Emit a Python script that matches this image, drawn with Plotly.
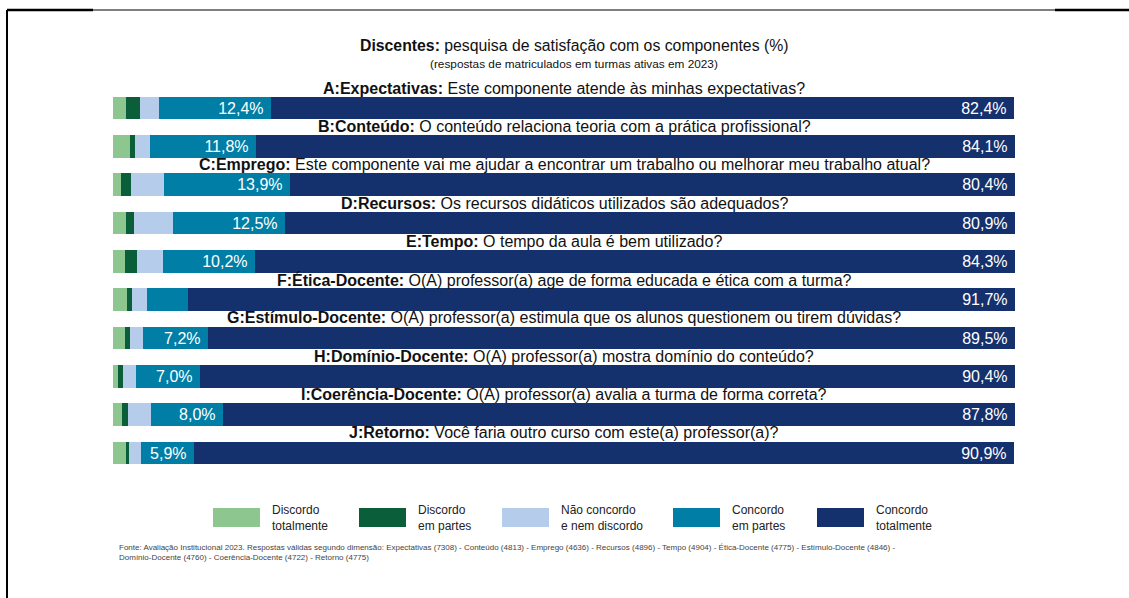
import plotly.graph_objects as go

# ---------------- data ----------------
codes = ["A:Expectativas:", "B:Conteúdo:", "C:Emprego:", "D:Recursos:", "E:Tempo:",
         "F:Ética-Docente:", "G:Estímulo-Docente:", "H:Domínio-Docente:",
         "I:Coerência-Docente:", "J:Retorno:"]
questions = [
    "Este componente atende às minhas expectativas?",
    "O conteúdo relaciona teoria com a prática profissional?",
    "Este componente vai me ajudar a encontrar um trabalho ou melhorar meu trabalho atual?",
    "Os recursos didáticos utilizados são adequados?",
    "O tempo da aula é bem utilizado?",
    "O(A) professor(a) age de forma educada e ética com a turma?",
    "O(A) professor(a) estimula que os alunos questionem ou tirem dúvidas?",
    "O(A) professor(a) mostra domínio do conteúdo?",
    "O(A) professor(a) avalia a turma de forma correta?",
    "Você faria outro curso com este(a) professor(a)?",
]
discordo_totalmente = [1.4, 1.9, 0.9, 1.4, 1.3, 1.6, 1.3, 0.6, 1.0, 1.4]
discordo_em_partes  = [1.6, 0.5, 1.1, 0.9, 1.4, 0.5, 0.6, 0.5, 0.7, 0.4]
nao_concordo        = [2.1, 1.7, 3.7, 4.3, 2.8, 1.7, 1.4, 1.5, 2.5, 1.3]
concordo_em_partes  = [12.4, 11.8, 13.9, 12.5, 10.2, 4.5, 7.2, 7.0, 8.0, 5.9]
concordo_totalmente = [82.4, 84.1, 80.4, 80.9, 84.3, 91.7, 89.5, 90.4, 87.8, 90.9]

legend_labels = ["Discordo<br>totalmente", "Discordo<br>em partes", "Não concordo<br>e nem discordo",
                 "Concordo<br>em partes", "Concordo<br>totalmente"]
colors = ["#8dc68f", "#0a5e3a", "#b5cdea", "#007ea6", "#14306d"]

title_bold = "Discentes:"
title_rest = " pesquisa de satisfação com os componentes (%)"
subtitle = "(respostas de matriculados em turmas ativas em 2023)"
footnote = ("Fonte: Avaliação Institucional 2023. Respostas válidas segundo dimensão: Expectativas (7308) - "
            "Conteúdo (4813) - Emprego (4636) - Recursos (4896) - Tempo (4904) - Ética-Docente (4775) - "
            "Estímulo-Docente (4846) -<br>Domínio-Docente (4760) - Coerência-Docente (4722) - Retorno (4775)")

# ---------------- layout helpers ----------------
W, H = 1129, 598
ML, MR, MT, MB = 113, 114, 89, 126
PW, PH = W - ML - MR, H - MT - MB


def px(x):
    return (x - ML) / PW


def py(y):
    return (H - MB - y) / PH


FONT = "Liberation Sans, Arial, sans-serif"
ys = list(range(len(codes)))

series = [discordo_totalmente, discordo_em_partes, nao_concordo, concordo_em_partes, concordo_totalmente]
fig = go.Figure()
for k, (vals, col) in enumerate(zip(series, colors)):
    if k == 3:
        text = [("%.1f%%" % v).replace(".", ",") + "\u00a0" if v >= 5 else "" for v in vals]
    elif k == 4:
        text = [("%.1f%%" % v).replace(".", ",") + "\u00a0" for v in vals]
    else:
        text = None
    fig.add_trace(go.Bar(
        x=vals, y=ys, orientation="h", marker=dict(color=col, line=dict(width=0)),
        width=0.59, text=text, textposition="inside" if text else "none",
        insidetextanchor="end", textangle=0,
        insidetextfont=dict(color="white", size=16, family=FONT),
        showlegend=False, hoverinfo="skip",
    ))

annotations = []
for i, (c, q) in enumerate(zip(codes, questions)):
    annotations.append(dict(
        x=50, y=i, xref="x", yref="y", yshift=20, showarrow=False,
        text="<b>%s</b> %s" % (c, q), font=dict(size=16, color="#111", family=FONT),
        xanchor="center", yanchor="middle"))

annotations.append(dict(x=px(574), y=py(45), xref="paper", yref="paper", showarrow=False,
                        text="<b>%s</b>%s" % (title_bold, title_rest),
                        font=dict(size=15.8, color="#111", family=FONT), xanchor="center", yanchor="middle"))
annotations.append(dict(x=px(574), y=py(64), xref="paper", yref="paper", showarrow=False,
                        text=subtitle, font=dict(size=11.8, color="#111", family=FONT),
                        xanchor="center", yanchor="middle"))
annotations.append(dict(x=px(117), y=py(552), xref="paper", yref="paper", showarrow=False,
                        text=footnote, align="left",
                        font=dict(size=8, color="#444", family=FONT), xanchor="left", yanchor="middle"))

shapes = []
legend_rect_x = [213, 359, 502, 673, 817]
for lx, lab, col in zip(legend_rect_x, legend_labels, colors):
    shapes.append(dict(type="rect", xref="paper", yref="paper",
                       x0=px(lx), x1=px(lx + 47), y0=py(527), y1=py(508),
                       fillcolor=col, line=dict(width=0)))
    annotations.append(dict(x=px(lx + 57), y=py(517.5), xref="paper", yref="paper", showarrow=False,
                            text=lab, align="left", font=dict(size=12, color="#222", family=FONT),
                            xanchor="left", yanchor="middle"))

# frame lines (screenshot border)
shapes += [
    dict(type="line", xref="paper", yref="paper", x0=px(7), x1=px(7), y0=py(10), y1=py(600),
         line=dict(color="black", width=2)),
    dict(type="line", xref="paper", yref="paper", x0=px(7), x1=px(93), y0=py(10), y1=py(10),
         line=dict(color="black", width=2.5)),
    dict(type="line", xref="paper", yref="paper", x0=px(93), x1=px(1055), y0=py(10), y1=py(10),
         line=dict(color="black", width=1)),
    dict(type="line", xref="paper", yref="paper", x0=px(1055), x1=px(1129), y0=py(10), y1=py(10),
         line=dict(color="black", width=2.5)),
]

fig.update_layout(
    width=W, height=H, barmode="stack", bargap=0,
    margin=dict(l=ML, r=MR, t=MT, b=MB, autoexpand=False),
    paper_bgcolor="white", plot_bgcolor="white",
    xaxis=dict(range=[0, 100], visible=False, fixedrange=True),
    yaxis=dict(range=[9.5, -0.5], visible=False, fixedrange=True),
    annotations=annotations, shapes=shapes,
    uniformtext=dict(minsize=16, mode="show"),
)

fig.write_html("out.html", config={"displayModeBar": False},
               post_script="document.body.style.margin='0';document.body.style.overflow='hidden';")
